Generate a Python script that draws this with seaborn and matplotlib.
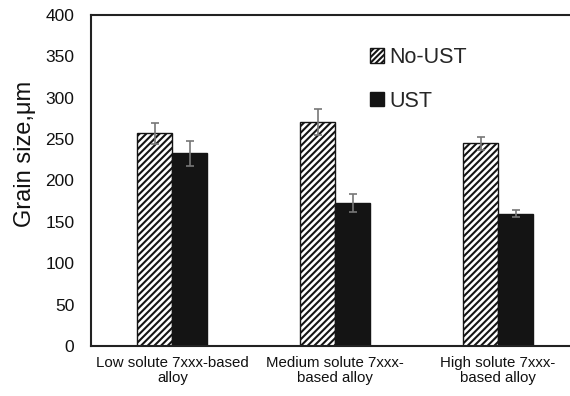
import matplotlib
matplotlib.use("Agg")
import matplotlib.pyplot as plt
import seaborn as sns
import pandas as pd
import numpy as np
from matplotlib.patches import Patch

categories = ["Low solute 7xxx-based\nalloy", "Medium solute 7xxx-\nbased alloy", "High solute 7xxx-\nbased alloy"]
series = ["No-UST", "UST"]
no_ust = [257, 271, 245]
ust = [233, 173, 160]
err_no_ust = [13, 16, 8]
err_ust = [15, 11, 4]

sns.set_style("white")
plt.rcParams['font.family'] = ['Liberation Sans', 'DejaVu Sans']
plt.rcParams['hatch.linewidth'] = 1.5
plt.rcParams['hatch.color'] = '#141414'

df = pd.DataFrame({
    "cat": categories * 2,
    "series": [series[0]] * 3 + [series[1]] * 3,
    "value": no_ust + ust,
})

fig = plt.figure(figsize=(5.7, 3.96), dpi=100)
ax = fig.add_axes([91/570, 50/396, 488.5/570, 331/396])

sns.barplot(data=df, x="cat", y="value", hue="series", order=categories,
            hue_order=series, palette=["white", "#141414"], width=0.43,
            edgecolor="#141414", linewidth=1.0, errorbar=None, ax=ax,
            legend=False, saturation=1)

HATCH = "/////"
n = len(categories)
patches = ax.patches[:2 * n]
for i, p in enumerate(patches):
    if i < n:
        p.set_hatch(HATCH)
        p.set_facecolor("white")
        p.set_edgecolor("#141414")
errs = err_no_ust + err_ust
vals = no_ust + ust
for i, p in enumerate(patches):
    cx = p.get_x() + p.get_width() / 2
    ax.errorbar(cx, vals[i], yerr=errs[i], fmt="none", ecolor="#777777",
                elinewidth=1.2, capsize=3, capthick=1.2, zorder=5)

ax.set_ylim(0, 400)
ax.set_xlim(-0.5, 2.5)
ax.set_yticks(np.arange(0, 401, 50))
ax.tick_params(axis="y", direction="in", length=3, color="#bbbbbb", labelsize=12.5,
               pad=12, labelcolor="#111111")
ax.set_xticks(range(n))
ax.set_xticks([0.5, 1.5], minor=True)
ax.tick_params(axis="x", which="major", length=0, labelsize=10.8, pad=7, labelcolor="#111111")
ax.tick_params(axis="x", which="minor", direction="in", length=3, color="#bbbbbb")
for lab in ax.get_xticklabels():
    lab.set_linespacing(1.15)
ax.set_xlabel("")
ax.set_ylabel("Grain size,μm", fontsize=17, color="#111111")
ax.yaxis.set_label_coords(-0.112, 0.58)

for s in ["left", "bottom", "top", "right"]:
    ax.spines[s].set_color("#222222")
    ax.spines[s].set_linewidth(1.5)

handles = [Patch(facecolor="white", edgecolor="#141414", hatch="//////", label="No-UST"),
           Patch(facecolor="#141414", edgecolor="#141414", label="UST")]
fig.legend(handles=handles, loc="upper left", bbox_to_anchor=(370/570, 1 - 47/396),
           frameon=False, fontsize=15.5, handlelength=0.67, handleheight=0.67,
           handletextpad=0.22, labelspacing=1.05, borderpad=0, borderaxespad=0)

fig.savefig("out.png", dpi=100)
